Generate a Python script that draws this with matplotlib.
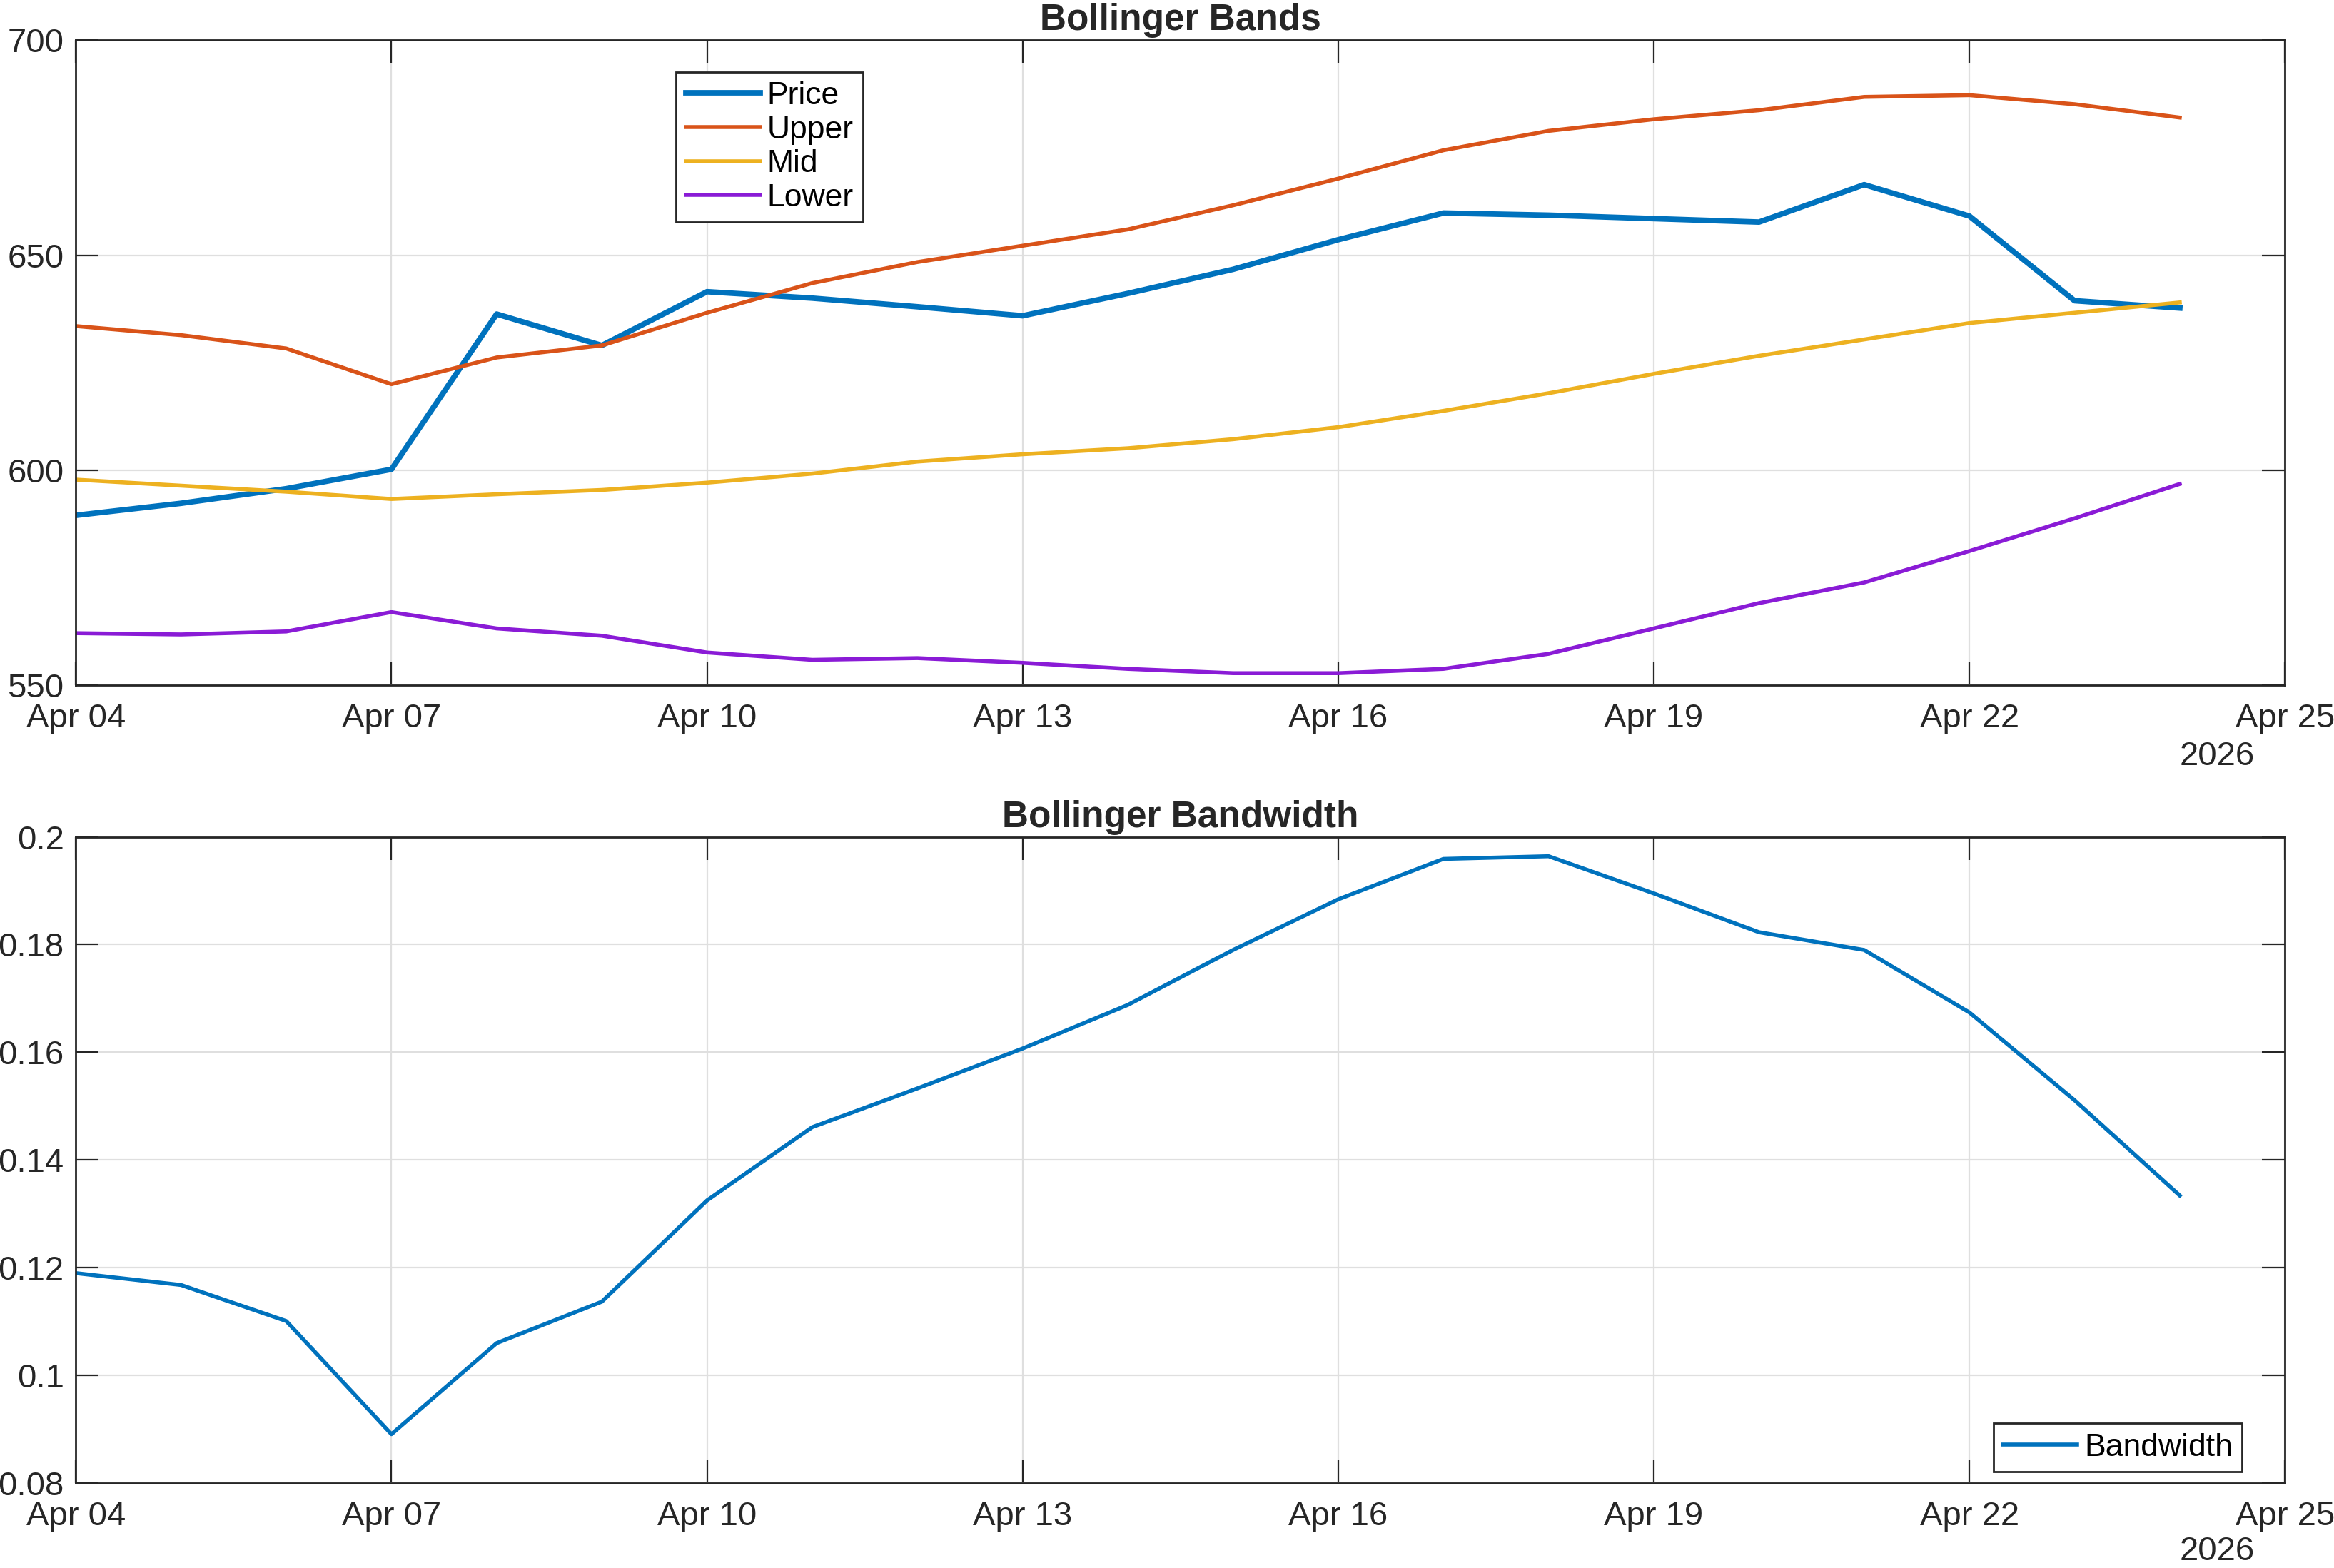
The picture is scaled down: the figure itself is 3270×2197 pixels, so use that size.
import numpy as np
import pandas as pd
import matplotlib
matplotlib.use("Agg")
import matplotlib.pyplot as plt
import matplotlib.dates as mdates
from matplotlib.ticker import FuncFormatter

plt.rcParams['font.family'] = ['Liberation Sans', 'DejaVu Sans']

dates = pd.date_range("2026-04-04", "2026-04-24", freq="D")

price = [589.5, 592.3, 595.7, 600.2, 636.3, 629.0, 641.5, 640.0, 638.0, 635.9,
         641.1, 646.7, 653.6, 659.8, 659.3, 658.5, 657.7, 666.4, 659.1, 639.4, 637.7]
upper = [633.5, 631.4, 628.3, 620.0, 626.2, 629.0, 636.6, 643.5, 648.4, 652.2,
         656.0, 661.6, 667.8, 674.4, 678.9, 681.6, 683.7, 686.8, 687.2, 685.1, 682.0]
mid = [597.8, 596.4, 595.0, 593.3, 594.4, 595.4, 597.1, 599.2, 602.0, 603.7,
       605.1, 607.2, 610.0, 613.8, 617.9, 622.4, 626.6, 630.4, 634.2, 636.6, 639.0]
lower = [562.1, 561.8, 562.5, 567.0, 563.2, 561.5, 557.6, 555.9, 556.3, 555.2,
         553.8, 552.8, 552.8, 553.8, 557.3, 563.2, 569.1, 573.9, 581.2, 588.8, 596.8]
bandwidth = [0.1190, 0.1168, 0.1101, 0.0891, 0.1060, 0.1137, 0.1325, 0.1461, 0.1533, 0.1607,
             0.1688, 0.1790, 0.1884, 0.1959, 0.1964, 0.1895, 0.1823, 0.1790, 0.1674, 0.1511, 0.1334]

c_price = '#0072BD'
c_upper = '#D95319'
c_mid = '#EDB120'
c_lower = '#8A1BD6'
ink = '#262626'

fig = plt.figure(figsize=(16.35, 10.985), dpi=200)
ax1 = fig.add_axes([0.0325, 0.563, 0.9465, 0.4114])
ax2 = fig.add_axes([0.0325, 0.0541, 0.9465, 0.4122])

xmin = pd.Timestamp("2026-04-04")
xmax = pd.Timestamp("2026-04-25")
ticks = pd.date_range(xmin, xmax, freq="3D")


def style(ax):
    ax.set_xlim(xmin, xmax)
    ax.set_xticks(ticks)
    ax.xaxis.set_major_formatter(mdates.DateFormatter('%b %d'))
    ax.grid(True, color='#DFDFDF', linewidth=0.8)
    ax.set_axisbelow(True)
    for s in ax.spines.values():
        s.set_color(ink)
        s.set_linewidth(1.0)
    ax.tick_params(axis='both', direction='in', length=11.5, width=0.8, color=ink,
                   labelsize=17, labelcolor=ink, top=True, right=True)
    ax.tick_params(axis='x', pad=9)
    ax.tick_params(axis='y', pad=6)


ax1.plot(dates, price, color=c_price, lw=2.8, label='Price')
ax1.plot(dates, upper, color=c_upper, lw=2.0, label='Upper')
ax1.plot(dates, mid, color=c_mid, lw=2.0, label='Mid')
ax1.plot(dates, lower, color=c_lower, lw=2.0, label='Lower')
style(ax1)
ax1.set_ylim(550, 700)
ax1.set_yticks([550, 600, 650, 700])
ax1.set_title('Bollinger Bands', fontsize=18.5, fontweight='bold', color=ink, pad=5)
leg1 = ax1.legend(loc='upper left', bbox_to_anchor=(0.2717, 0.951), fontsize=16,
                  fancybox=False, edgecolor=ink, framealpha=1, handlelength=2.35,
                  handletextpad=0.22, borderpad=0.3, labelspacing=0.15, borderaxespad=0)
leg1.get_frame().set_linewidth(1.0)
ax1.text(0.9864, -0.111, '2026', transform=ax1.transAxes, ha='right', va='center',
         fontsize=17, color=ink)

ax2.plot(dates, bandwidth, color=c_price, lw=2.0, label='Bandwidth')
style(ax2)
ax2.set_ylim(0.08, 0.2)
ax2.set_yticks(np.arange(0.08, 0.2001, 0.02))
ax2.yaxis.set_major_formatter(FuncFormatter(lambda v, p: '%g' % round(v, 4)))
ax2.set_title('Bollinger Bandwidth', fontsize=18.5, fontweight='bold', color=ink, pad=5)
leg2 = ax2.legend(loc='lower right', bbox_to_anchor=(0.9806, 0.0177), fontsize=16,
                  fancybox=False, edgecolor=ink, framealpha=1, handlelength=2.35,
                  handletextpad=0.22, borderpad=0.3, borderaxespad=0)
leg2.get_frame().set_linewidth(1.0)
ax2.text(0.9864, -0.106, '2026', transform=ax2.transAxes, ha='right', va='center',
         fontsize=17, color=ink)

fig.savefig('out.png', dpi=200)
